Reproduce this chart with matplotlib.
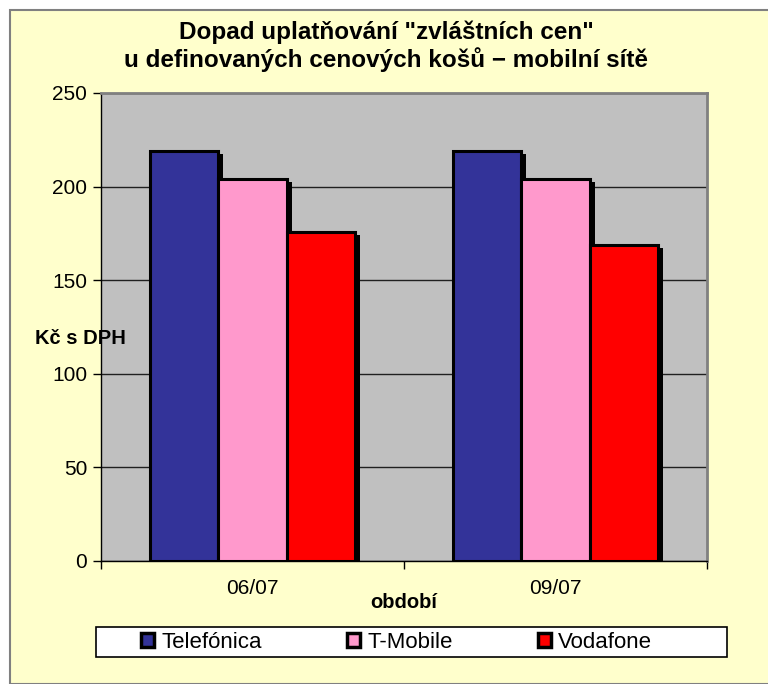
import numpy as np
import matplotlib
matplotlib.use("Agg")
import matplotlib.pyplot as plt
import matplotlib.patheffects as pe
from matplotlib.patches import Rectangle

# data
periods = ["06/07", "09/07"]
operators = ["Telefónica", "T-Mobile", "Vodafone"]
telefonica = [219, 219]
tmobile = [204, 204]
vodafone = [176, 169]
yticks = [0, 50, 100, 150, 200, 250]

colors = ["#333399", "#FF99CC", "#FF0000"]

W, H = 768, 684
plt.rcParams["font.family"] = ["Liberation Sans", "DejaVu Sans"]

fig = plt.figure(figsize=(W / 100, H / 100), dpi=100)
fig.patch.set_facecolor("white")

# chart area frame (yellow)
fig.patches.append(Rectangle((10 / W, 0), 1, 1 - 10 / H, transform=fig.transFigure,
                             facecolor="#FFFFCC", edgecolor="#808080", linewidth=1.5, zorder=-10))

ax = fig.add_axes([101 / W, (H - 561) / H, 606 / W, 468 / H])
ax.set_facecolor("#C0C0C0")

x = np.arange(len(periods))
w = 0.225
shadow = [pe.SimplePatchShadow(offset=(3.6, -2.2), shadow_rgbFace="black", alpha=1), pe.Normal()]
for i, (vals, name) in enumerate(zip([telefonica, tmobile, vodafone], operators)):
    bars = ax.bar(x + (i - 1) * w, vals, w, color=colors[i], edgecolor="black",
                  linewidth=2.2, label=name, zorder=3)
    for b in bars:
        b.set_path_effects(shadow)

ax.set_xlim(-0.5, 1.5)
ax.set_ylim(0, 250)
ax.set_yticks(yticks)
ax.yaxis.grid(True, color="#202020", linewidth=1)
ax.set_axisbelow(True)

ax.set_xticks(x)
ax.set_xticklabels(periods)
ax.set_xticks([-0.5, 0.5, 1.5], minor=True)
ax.tick_params(axis="x", which="major", length=0, labelsize=15, pad=13)
ax.tick_params(axis="x", which="minor", length=6, width=1, direction="out")
ax.tick_params(axis="y", length=6, width=1, direction="out", labelsize=15, pad=4)

for s in ["top", "right"]:
    ax.spines[s].set_color("#808080")
    ax.spines[s].set_linewidth(2)
for s in ["left", "bottom"]:
    ax.spines[s].set_color("black")
    ax.spines[s].set_linewidth(1)

fig.text(386 / W, 1 - 46 / H, 'Dopad uplatňování "zvláštních cen"\nu definovaných cenových košů \u2212 mobilní sítě',
         ha="center", va="center", fontsize=17.5, fontweight="bold", linespacing=1.18)
fig.text(35 / W, 1 - 338 / H, "Kč s DPH", ha="left", va="center", fontsize=14.5, fontweight="bold")
fig.text(404 / W, 1 - 603 / H, "období", ha="center", va="center", fontsize=14.5, fontweight="bold")

# legend box
fig.patches.append(Rectangle((96 / W, 1 - 657 / H), 631 / W, 30 / H, transform=fig.transFigure,
                             facecolor="white", edgecolor="black", linewidth=1.2, zorder=1))
leg = fig.legend(loc="center left", ncol=3, frameon=False,
                 bbox_to_anchor=(141 / W, 1 - 642 / H),
                 fontsize=16, handlelength=0.6, handleheight=0.6, handletextpad=0.3,
                 columnspacing=3.85, borderpad=0, borderaxespad=0)
for hnd in leg.legend_handles:
    hnd.set_path_effects([])
    hnd.set_linewidth(2.5)

fig.savefig("out.png", dpi=100)
